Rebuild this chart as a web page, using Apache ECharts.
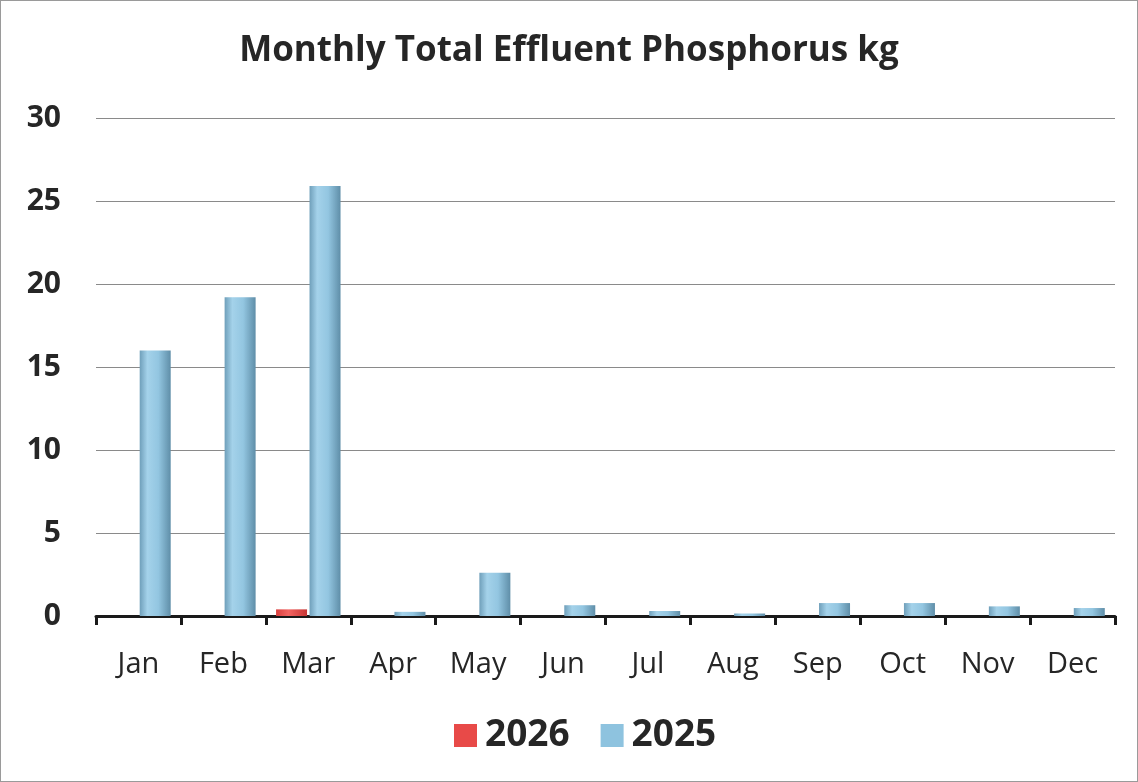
<!DOCTYPE html>
<html>
<head>
<meta charset="utf-8">
<script src="https://cdn.jsdelivr.net/npm/echarts@6/dist/echarts.min.js"></script>
<style>
html,body{margin:0;padding:0;background:#fff;}
#c{position:absolute;left:0;top:0;width:1136px;height:780px;border:1px solid #9a9a9a;}
</style>
</head>
<body>
<div id="c"></div>
<script>
const categories = ['Jan','Feb','Mar','Apr','May','Jun','Jul','Aug','Sep','Oct','Nov','Dec'];
const values2026 = [null, null, 0.4, null, null, null, null, null, null, null, null, null];
const values2025 = [16.0, 19.2, 25.9, 0.25, 2.6, 0.65, 0.3, 0.15, 0.78, 0.78, 0.58, 0.48];
const yTicks = [0, 5, 10, 15, 20, 25, 30];

const chart = echarts.init(document.getElementById('c'), null, {renderer:'canvas'});
const blue = new echarts.graphic.LinearGradient(0,0,1,0,[
  {offset:0,color:'#6f9fba'},{offset:0.25,color:'#a4d2ea'},{offset:0.6,color:'#93c6e1'},{offset:1,color:'#5f8ea8'}]);
const red = new echarts.graphic.LinearGradient(0,0,1,0,[
  {offset:0,color:'#d9403f'},{offset:0.4,color:'#f26461'},{offset:1,color:'#c73635'}]);
const FONT = 'Open Sans';
chart.setOption({
  animation:false,
  backgroundColor:'#fff',
  title:{text:'Monthly Total Effluent Phosphorus kg',left:'center',top:28,
    textStyle:{fontFamily:FONT,fontWeight:'bold',fontSize:35,color:'#262626'}},
  legend:{bottom:22,left:448,itemWidth:23,itemHeight:23,itemGap:31,icon:'rect',
    textStyle:{fontFamily:FONT,fontWeight:'bold',fontSize:37,color:'#262626',padding:[0,0,0,3]},
    data:[{name:'2026',itemStyle:{color:'#e84a48'}},{name:'2025',itemStyle:{color:'#8ec3df'}}]},
  grid:{left:95,right:22,top:117,bottom:165,containLabel:false},
  xAxis:{type:'category',data:categories,
    axisLine:{lineStyle:{color:'#1a1a1a',width:3}},
    axisTick:{show:true,length:9,lineStyle:{color:'#1a1a1a',width:3}},
    axisLabel:{fontFamily:FONT,fontSize:29,color:'#262626',margin:34}},
  yAxis:{type:'value',min:0,max:30,interval:5,
    axisLine:{show:false},axisTick:{show:false},
    splitLine:{lineStyle:{color:'#8a8a8a',width:1.2}},
    axisLabel:{fontFamily:FONT,fontWeight:'bold',fontSize:30,color:'#262626',margin:35,
      formatter:v=>yTicks.includes(v)?String(v):''}},
  series:[
    {name:'2026',type:'bar',data:values2026,barWidth:31,barGap:'8%',
      itemStyle:{color:red}},
    {name:'2025',type:'bar',data:values2025,barWidth:31,
      itemStyle:{color:blue}}
  ]
});
</script>
</body>
</html>
